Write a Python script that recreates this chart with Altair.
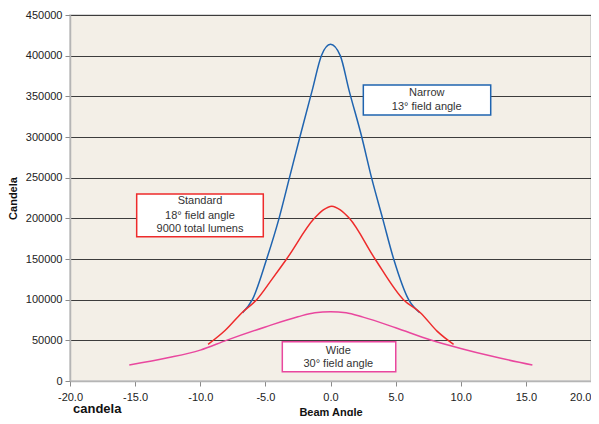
import altair as alt
import pandas as pd

# Beam angle (degrees) and candela values per series
narrow_angle = [-6.75, -6.0, -4.9, -3.95, -3.15, -2.35, -1.4, -0.7, 0.0, 0.75, 1.42, 2.4, 3.15, 4.0, 4.85, 6.0, 6.85]
narrow_cd = [84000, 100000, 150000, 200000, 250000, 300000, 357700, 400000, 414000, 400000, 357700, 300000, 250000, 200000, 150000, 100000, 84000]

standard_angle = [-9.4, -8.1, -6.8, -5.67, -4.5, -3.37, -1.24, -0.55, 0.1, 0.75, 1.45, 3.42, 5.6, 6.9, 8.2, 9.45]
standard_cd = [45000, 62000, 84000, 100000, 125000, 150000, 200000, 210500, 215000, 210500, 200000, 150000, 100000, 84000, 61000, 45000]

wide_angle = [-15.45, -12.5, -10.0, -8.0, -5.0, -2.5, -1.2, 0.0, 1.2, 2.5, 5.0, 7.7, 10.0, 12.5, 15.5]
wide_cd = [19700, 28500, 38000, 50000, 66500, 79000, 84000, 85200, 84000, 78500, 65500, 50400, 40000, 30000, 19700]

series_names = ["Narrow", "Standard", "Wide"]
series_colors = ["#1f64b0", "#ee2b2b", "#e9479e"]

# annotation boxes (data coords)
box_series = ["Narrow", "Standard", "Wide"]
box_x1 = [2.52, -14.88, -3.70]
box_x2 = [12.3, -5.16, 5.01]
box_y1 = [363900, 229900, 48300]
box_y2 = [327000, 177400, 11400]

text_lines = ["Narrow", "13° field angle",
              "Standard", "18° field angle", "9000 total lumens",
              "Wide", "30° field angle"]
text_x = [7.39, 7.39, -10.02, -10.02, -10.02, 0.6, 0.6]
text_y = [354000, 337500, 221000, 203000, 187500, 37300, 20500]

rows = []
for name, xs, ys in [("Narrow", narrow_angle, narrow_cd),
                     ("Standard", standard_angle, standard_cd),
                     ("Wide", wide_angle, wide_cd)]:
    for a, c in zip(xs, ys):
        rows.append({"series": name, "angle": a, "cd": c})
df = pd.DataFrame(rows)

boxes = pd.DataFrame({"series": box_series, "x1": box_x1, "x2": box_x2, "y1": box_y1, "y2": box_y2})
texts = pd.DataFrame({"t": text_lines, "x": text_x, "y": text_y})

xscale = alt.Scale(domain=[-20, 20], nice=False, zero=False)
yscale = alt.Scale(domain=[0, 450000], nice=False)
cscale = alt.Scale(domain=series_names, range=series_colors)

FONT = "Liberation Sans"

lines = alt.Chart(df).mark_line(interpolate="monotone", strokeWidth=1.5).encode(
    x=alt.X("angle:Q", scale=xscale,
            axis=alt.Axis(title="Beam Angle", values=[-20, -15, -10, -5, 0, 5, 10, 15, 20],
                          labelExpr="(datum.value < 0 ? '-' : '') + format(abs(datum.value), '.1f')",
                          grid=False, tickSize=5, labelPadding=5,
                          labelFlush=False,
                          labelAlign={"condition": {"test": "datum.value >= 20", "value": "right"}, "value": "center"},
                          titlePadding=4)),
    y=alt.Y("cd:Q", scale=yscale,
            axis=alt.Axis(title="Candela", values=list(range(0, 450001, 50000)), format="d",
                          grid=True, tickSize=5, labelPadding=3, titlePadding=7)),
    color=alt.Color("series:N", scale=cscale, legend=None),
    detail="series:N",
)

rects = alt.Chart(boxes).mark_rect(fill="white", strokeWidth=1.5).encode(
    x=alt.X("x1:Q", scale=xscale), x2="x2:Q",
    y=alt.Y("y1:Q", scale=yscale), y2="y2:Q",
    stroke=alt.Stroke("series:N", scale=cscale, legend=None),
)

labels = alt.Chart(texts).mark_text(fontSize=11, font=FONT, color="#333333", baseline="middle").encode(
    x=alt.X("x:Q", scale=xscale), y=alt.Y("y:Q", scale=yscale), text="t:N"
)

footer = alt.Chart(pd.DataFrame({"t": ["candela"]})).mark_text(
    fontSize=13, font=FONT, fontWeight="bold", color="#111111", align="left", baseline="bottom"
).encode(x=alt.value(3), y=alt.value(401), text="t:N")

chart = alt.layer(lines, rects, labels, footer).properties(
    width=521, height=366,
    autosize=alt.AutoSizeParams(type="none"),
    padding={"left": 62, "top": 7, "right": 0, "bottom": 35},
).configure_view(
    fill="#f3efe7", stroke="#c9c9c9", strokeWidth=1.5
).configure_axis(
    labelFont=FONT, titleFont=FONT, labelFontSize=11, titleFontSize=11,
    labelColor="#222222", titleColor="#111111", titleFontWeight="bold",
    domainColor="#b5b5b5", tickColor="#8a8a8a", gridColor="#3c3c3c", gridWidth=1,
    domainWidth=1.5,
)

chart.save("out.html", embed_options={"renderer": "svg", "actions": False})
